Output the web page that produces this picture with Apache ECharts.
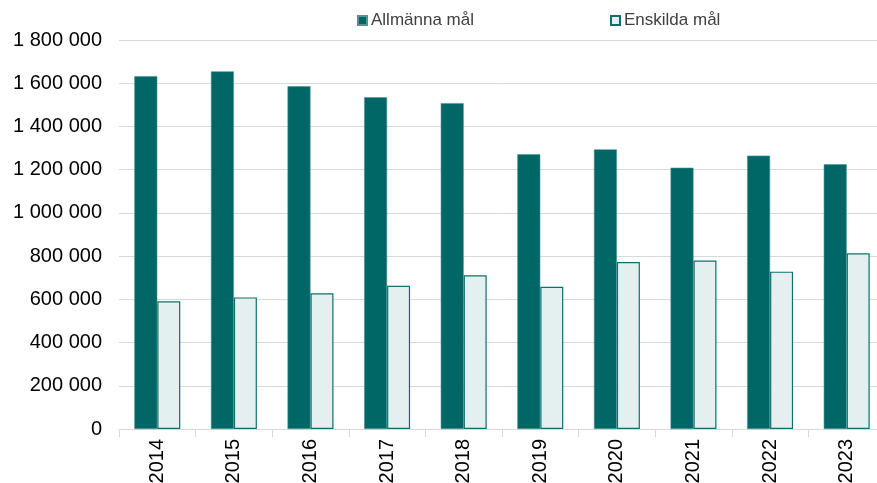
<!DOCTYPE html>
<html>
<head>
<meta charset="utf-8">
<script src="https://cdn.jsdelivr.net/npm/echarts@6/dist/echarts.min.js"></script>
<style>html,body{margin:0;padding:0;background:#fff}#c{width:877px;height:483px}</style>
</head>
<body>
<div id="c"></div>
<script>
const categories = ['2014','2015','2016','2017','2018','2019','2020','2021','2022','2023'];
const allmanna = [1633000, 1655000, 1586000, 1535000, 1508000, 1271000, 1294000, 1209000, 1265000, 1225000];
const enskilda = [591000, 609000, 628000, 663000, 711000, 658000, 773000, 780000, 728000, 813000];
const seriesNames = ['Allmänna mål', 'Enskilda mål'];

const fmt = v => String(v).replace(/\B(?=(\d{3})+(?!\d))/g, ' ');
const chart = echarts.init(document.getElementById('c'));
chart.setOption({
  animation: false,
  textStyle: { fontFamily: 'Liberation Sans, Arial, sans-serif' },
  legend: {
    top: 7, left: 352,
    itemWidth: 9, itemHeight: 9, itemGap: 136,
    icon: 'rect',
    textStyle: { fontSize: 17, color: '#404040', padding: [0,0,0,-1] },
    data: seriesNames
  },
  grid: { left: 119, width: 766, top: 40, bottom: 54, containLabel: false, outerBoundsMode: 'none' },
  xAxis: {
    type: 'category', data: categories,
    axisLine: { lineStyle: { color: '#d9d9d9', width: 1 } },
    axisTick: { show: true, length: 8, lineStyle: { color: '#d9d9d9' } },
    axisLabel: { rotate: 90, fontSize: 20, color: '#000', margin: 10 }
  },
  yAxis: {
    type: 'value', min: 0, max: 1800000, interval: 200000,
    axisLine: { show: false }, axisTick: { show: false },
    splitLine: { lineStyle: { color: '#d9d9d9', width: 1 } },
    axisLabel: { fontSize: 20, color: '#000', margin: 17, formatter: fmt }
  },
  series: [
    { name: seriesNames[0], type: 'bar', data: allmanna, barWidth: '30%', barGap: '0%',
      itemStyle: { color: '#006666', borderColor: '#4d9494', borderWidth: 0.6 } },
    { name: seriesNames[1], type: 'bar', data: enskilda, barWidth: '30%', barGap: '0%',
      itemStyle: { color: '#e4f0f0', borderColor: '#0f6e6e', borderWidth: 1.2 } }
  ]
});
</script>
</body>
</html>
